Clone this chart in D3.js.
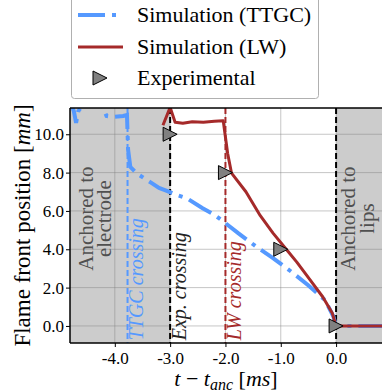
<!DOCTYPE html>
<html>
<head>
<meta charset="utf-8">
<script src="https://cdn.jsdelivr.net/npm/d3@7"></script>
<style>
  body { margin: 0; background: #fff; }
  svg, svg text { font-family: "Liberation Serif", "DejaVu Serif", serif; }
</style>
</head>
<body>
<div id="chart"></div>
<script>
// TTGC simulation: [t - t_anc (ms), flame front position (mm)]
const ttgc = [
  [-4.81, 11.7], [-4.74, 11.2], [-4.70, 10.6], [-4.66, 11.2], [-4.5, 11.9],
  [-4.3, 11.8], [-4.2, 11.3], [-4.15, 10.95], [-4.05, 10.9], [-3.85, 10.95],
  [-3.78, 11.0], [-3.76, 9.2], [-3.72, 8.3], [-3.6, 7.95], [-3.36, 7.5],
  [-3.2, 7.2], [-3.06, 7.05], [-2.9, 6.85], [-2.69, 6.65], [-2.42, 6.15],
  [-2.2, 5.8], [-2.06, 5.5], [-1.77, 4.84], [-1.43, 4.11], [-1.14, 3.54],
  [-0.8, 2.81], [-0.51, 2.14], [-0.2, 1.35], [-0.05, 0.5], [0, 0], [0.83, 0]
];
// LW simulation
const lw = [
  [-3.13, 10.47], [-3.0, 11.4], [-2.91, 10.63], [-2.77, 10.57], [-2.6, 10.65],
  [-2.4, 10.63], [-2.2, 10.68], [-2.04, 10.7], [-1.96, 9.0], [-1.89, 7.97],
  [-1.63, 7.0], [-1.37, 5.75], [-1.14, 4.84], [-0.89, 3.96], [-0.71, 3.33],
  [-0.47, 2.40], [-0.24, 1.51], [-0.07, 0.68], [0, 0], [0.83, 0]
];
// experimental points
const experimental = [[-3.0, 10.0], [-2.0, 8.0], [-1.0, 4.0], [0.0, 0.0]];

const xTicks = [-4, -3, -2, -1, 0];
const yTicks = [0, 2, 4, 6, 8, 10];

const tTTGC = -3.77, tExp = -3.0, tLW = -2.0, tAnc = 0.0;

const width = 382, height = 392;
const margin = { top: 108, right: 0, bottom: 49, left: 70 };
const innerW = width - margin.left - margin.right;
const innerH = height - margin.top - margin.bottom;

const blue = '#5599ff', red = '#a52a2a';
const serif = '"Liberation Serif", "DejaVu Serif", serif';

const svg = d3.select('#chart').append('svg')
  .attr('width', width).attr('height', height);

svg.append('defs').append('clipPath').attr('id', 'clip')
  .append('rect').attr('width', innerW).attr('height', innerH);

const g = svg.append('g').attr('transform', `translate(${margin.left},${margin.top})`);

const x = d3.scaleLinear().domain([-4.81, 0.83]).range([0, innerW]);
const y = d3.scaleLinear().domain([-0.89, 11.37]).range([innerH, 0]);

// shaded regions
g.append('rect').attr('x', 0).attr('y', 0)
  .attr('width', x(tExp)).attr('height', innerH).attr('fill', '#cccccc');
g.append('rect').attr('x', x(tAnc)).attr('y', 0)
  .attr('width', innerW - x(tAnc)).attr('height', innerH).attr('fill', '#cccccc');

// grid
g.append('g').selectAll('line').data(xTicks).join('line')
  .attr('x1', d => x(d)).attr('x2', d => x(d)).attr('y1', 0).attr('y2', innerH)
  .attr('stroke', '#808080').attr('stroke-opacity', 0.45);
g.append('g').selectAll('line').data(yTicks).join('line')
  .attr('y1', d => y(d)).attr('y2', d => y(d)).attr('x1', 0).attr('x2', innerW)
  .attr('stroke', '#808080').attr('stroke-opacity', 0.45);

// vertical marker lines
const vlines = [
  { t: tTTGC, color: blue },
  { t: tExp, color: '#000' },
  { t: tLW, color: red },
  { t: tAnc, color: '#000' }
];
g.append('g').selectAll('line').data(vlines).join('line')
  .attr('x1', d => x(d.t)).attr('x2', d => x(d.t)).attr('y1', 0).attr('y2', innerH)
  .attr('stroke', d => d.color).attr('stroke-width', 2)
  .attr('stroke-dasharray', '6,3');

// annotation texts
const rot = (px, py) => `translate(${px},${py}) rotate(-90)`;
const ann = g.append('g').attr('font-size', 20);
ann.append('text').attr('transform', rot(x(tTTGC) + 15, y(-0.75)))
  .attr('fill', blue).attr('font-style', 'italic').text('TTGC crossing');
ann.append('text').attr('transform', rot(x(tExp) + 16, y(-0.75)))
  .attr('fill', '#222').attr('font-style', 'italic').text('Exp. crossing');
ann.append('text').attr('transform', rot(x(tLW) + 16, y(-0.75)))
  .attr('fill', red).attr('font-style', 'italic').text('LW crossing');

const anch = g.append('g').attr('font-size', 21).attr('fill', '#505050')
  .attr('text-anchor', 'middle');
anch.append('text').attr('transform', rot(x(-4.4), y(5.6))).text('Anchored to');
anch.append('text').attr('transform', rot(x(-4.4) + 18, y(5.6))).text('electrode');
anch.append('text').attr('transform', rot(x(0.35), y(5.6))).text('Anchored to');
anch.append('text').attr('transform', rot(x(0.35) + 19, y(5.6))).text('lips');

// data lines
const line = d3.line().x(d => x(d[0])).y(d => y(d[1]));
const plot = g.append('g').attr('clip-path', 'url(#clip)');
plot.append('path').datum(ttgc).attr('d', line)
  .attr('fill', 'none').attr('stroke', blue).attr('stroke-width', 4)
  .attr('stroke-dasharray', '26,7,4,7');
plot.append('path').datum(lw).attr('d', line)
  .attr('fill', 'none').attr('stroke', red).attr('stroke-width', 3)
  .attr('stroke-linejoin', 'round');

const tri = 'M-7,-7L7,0L-7,7Z';
plot.selectAll('.exp').data(experimental).join('path')
  .attr('class', 'exp')
  .attr('transform', d => `translate(${x(d[0])},${y(d[1])})`)
  .attr('d', tri).attr('fill', '#808080').attr('stroke', '#000').attr('stroke-width', 1);

// frame
g.append('line').attr('x1', 0).attr('x2', innerW).attr('y1', 0).attr('y2', 0).attr('stroke', '#000').attr('stroke-width', 1.5);
g.append('line').attr('x1', 0).attr('x2', innerW).attr('y1', innerH).attr('y2', innerH).attr('stroke', '#000').attr('stroke-width', 1.5);
g.append('line').attr('x1', 0).attr('x2', 0).attr('y1', 0).attr('y2', innerH).attr('stroke', '#000').attr('stroke-width', 1.5);

// axes
const xAxis = g.append('g').attr('transform', `translate(0,${innerH})`)
  .call(d3.axisBottom(x).tickValues(xTicks).tickSize(4).tickPadding(5));
const yAxis = g.append('g')
  .call(d3.axisLeft(y).tickValues(yTicks).tickSize(4).tickPadding(2));
[xAxis, yAxis].forEach(a => {
  a.attr('font-family', null).attr('font-size', null);
  a.select('.domain').remove();
  a.selectAll('text').style('font-family', serif).style('font-size', '17px').attr('fill', '#000')
    .text(d => d.toFixed(1));
});

// axis labels
const yl = svg.append('text').attr('transform', rot(30, margin.top + innerH / 2))
  .attr('text-anchor', 'middle').attr('font-size', 23);
yl.append('tspan').text('Flame front position [');
yl.append('tspan').attr('font-style', 'italic').text('mm');
yl.append('tspan').text(']');

const xl = svg.append('text').attr('x', margin.left + innerW / 2).attr('y', 386)
  .attr('text-anchor', 'middle').attr('font-size', 22);
xl.append('tspan').attr('font-style', 'italic').text('t');
xl.append('tspan').text(' − ');
xl.append('tspan').attr('font-style', 'italic').text('t');
xl.append('tspan').attr('font-style', 'italic').attr('font-size', 16).attr('dy', 4).text('anc');
xl.append('tspan').attr('dy', -4).text(' [');
xl.append('tspan').attr('font-style', 'italic').text('ms');
xl.append('tspan').text(']');

// legend
const leg = svg.append('g');
leg.append('rect').attr('x', 71.5).attr('y', -10).attr('width', 247).attr('height', 108.5)
  .attr('rx', 3).attr('fill', '#fff').attr('stroke', '#b0b0b0');
const entries = [
  { label: 'Simulation (TTGC)', type: 'ttgc', cy: 15 },
  { label: 'Simulation (LW)', type: 'lw', cy: 47 },
  { label: 'Experimental', type: 'exp', cy: 78 }
];
entries.forEach(e => {
  if (e.type === 'ttgc') {
    leg.append('line').attr('x1', 78).attr('x2', 123).attr('y1', e.cy).attr('y2', e.cy)
      .attr('stroke', blue).attr('stroke-width', 4).attr('stroke-dasharray', '27,7,4,7');
  } else if (e.type === 'lw') {
    leg.append('line').attr('x1', 78).attr('x2', 123).attr('y1', e.cy).attr('y2', e.cy)
      .attr('stroke', red).attr('stroke-width', 3);
  } else {
    leg.append('path').attr('transform', `translate(100,${e.cy})`).attr('d', tri)
      .attr('fill', '#808080').attr('stroke', '#000');
  }
  leg.append('text').attr('x', 137).attr('y', e.cy + 7).attr('font-size', 22).text(e.label);
});
</script>
</body>
</html>
